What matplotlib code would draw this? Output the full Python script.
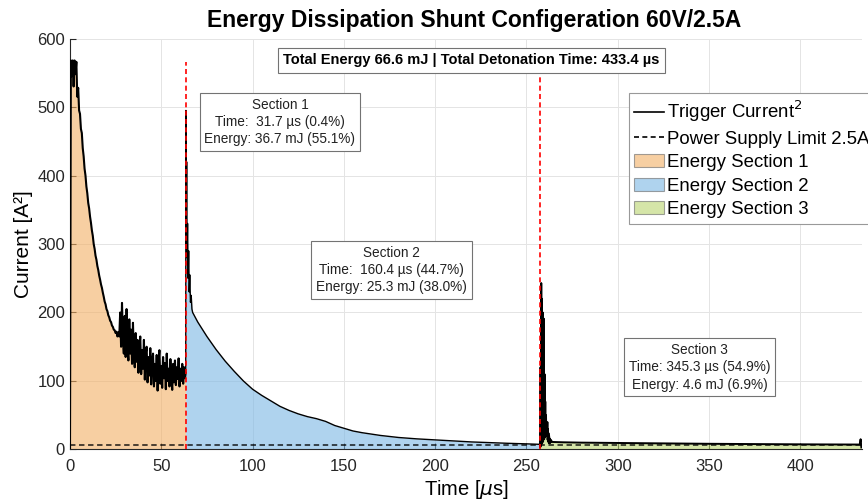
import matplotlib
matplotlib.use("Agg")
import matplotlib.pyplot as plt
from matplotlib.patches import Patch
from matplotlib.lines import Line2D

plt.rcParams['font.family'] = ['Liberation Sans', 'DejaVu Sans']

# section boundaries [us]
t_b1 = 63.4
t_b2 = 257.4
t_end = 433.4
supply_limit = 2.5 ** 2  # A^2

# section 1 (0 .. 63.4 us), every 0.5 us
t_s1 = [i * 0.5 for i in range(127)] + [t_b1]
i_s1 = [0, 568, 545, 568, 530, 568, 548, 566, 515, 528,
        495, 490, 468, 462, 440, 428, 410, 400, 384, 374,
        360, 352, 340, 331, 320, 312, 300, 293, 283, 277,
        268, 262, 254, 248, 241, 236, 229, 223, 216, 212,
        205, 202, 196, 193, 188, 186, 181, 179, 175, 174,
        170, 172, 165, 171,
        165, 200, 150, 214, 160, 140, 195, 135, 205, 150,
        130, 190, 140, 175, 125, 185, 135, 120, 170, 128,
        160, 112, 150, 165, 110, 145, 118, 160, 102, 140,
        150, 98, 135, 108, 148, 95, 130, 140, 92, 125,
        100, 138, 86, 128, 145, 96, 122, 90, 135, 104,
        126, 88, 140, 100, 118, 92, 132, 106, 87, 125,
        98, 130, 94, 120, 103, 133, 92, 118, 100, 125,
        96, 120, 104, 112]

# section 2 (63.4 .. 257.4 us)
t_s2 = [63.4, 63.5, 63.7, 63.9, 64.1, 64.4, 64.7, 65.0, 65.3, 65.6,
        66.0, 66.4, 66.8, 67.2, 70, 75, 80, 85, 90, 95,
        100, 105, 110, 115, 120, 125, 130, 135, 140, 145,
        150, 155, 160, 165, 170, 180, 190, 200, 210, 220,
        230, 240, 250, 257.4]
i_s2 = [112, 495, 300, 420, 280, 330, 250, 290, 230, 255,
        215, 225, 205, 200, 186, 165, 146, 129, 114, 100,
        88, 79, 71, 63, 57, 52, 48, 45, 41, 35,
        31, 27, 24.5, 22.5, 20.5, 17.5, 15.5, 14, 12.5, 11,
        10, 9, 8.2, 7.5]

# section 3 (257.4 .. 433.4 us)
t_s3 = [257.4, 257.5, 257.7, 257.9, 258.1, 258.3, 258.5, 258.7, 258.9, 259.1,
        259.3, 259.5, 259.7, 259.9, 260.1, 260.3, 260.5, 260.7, 260.9, 261.1,
        261.3, 261.45, 261.6, 261.75, 261.9, 262.05, 262.2, 262.4, 262.6, 262.8,
        263.0, 263.4, 264.0, 270, 280, 300, 320, 350, 380, 410,
        432.5, 433.0, 433.4]
i_s3 = [7.5, 3, 120, 5, 243, 8, 220, 10, 200, 12,
        185, 191, 15, 110, 18, 70, 20, 50, 22, 36,
        20, 40, 14, 30, 12, 24, 10, 20, 9, 16,
        10, 14, 11, 10.5, 10, 9.5, 9, 8.3, 7.8, 7.4,
        7.2, 15, 3]

sections = [(t_s1, i_s1), (t_s2, i_s2), (t_s3, i_s3)]
fill_colors = ['#F3AF64', '#7BB7E4', '#B9D46E']
line_widths = [1.5, 1.0, 1.4]
section_labels = ['Energy Section 1', 'Energy Section 2', 'Energy Section 3']

boxes = [
    (115, 478, 'Section 1\nTime:  31.7 \u00b5s (0.4%)\nEnergy: 36.7 mJ (55.1%)'),
    (176, 262, 'Section 2\nTime:  160.4 \u00b5s (44.7%)\nEnergy: 25.3 mJ (38.0%)'),
    (345, 120, 'Section 3\nTime: 345.3 \u00b5s (54.9%)\nEnergy: 4.6 mJ (6.9%)'),
]
total_text = 'Total Energy 66.6 mJ | Total Detonation Time: 433.4 \u00b5s'

fig = plt.figure(figsize=(8.68, 5.03), dpi=100)
ax = fig.add_axes([0.0806, 0.1064, 0.913, 0.817])

for (t, i), c in zip(sections, fill_colors):
    ax.fill_between(t, 0, i, color=c, alpha=0.6, lw=0, zorder=2)

# supply limit
ax.plot([0, t_end], [supply_limit, supply_limit], color='black', alpha=0.75,
        ls=(0, (3, 2)), lw=1.3, zorder=2.5)

for (t, i), lw in zip(sections, line_widths):
    ax.plot(t, i, color='black', lw=lw, zorder=3)

for tb in (t_b1, t_b2):
    ax.plot([tb, tb], [0, 566], color='red', ls=(0, (3, 2)), lw=1.2, zorder=4)

box_style = dict(boxstyle='square,pad=0.35', fc='white', ec='0.45', lw=0.8)
for x, y, txt in boxes:
    ax.text(x, y, txt, ha='center', va='center', fontsize=9.8, linespacing=1.3,
            color='#222222', bbox=box_style, zorder=5)
ax.text(220, 568, total_text, ha='center', va='center', fontsize=10.5,
        fontweight='bold', bbox=dict(boxstyle='square,pad=0.35', fc='white',
                                     ec='0.45', lw=0.8), zorder=5)

ax.set_xlim(0, 434)
ax.set_ylim(0, 600)
ax.set_xticks(range(0, 401, 50))
ax.set_yticks(range(0, 601, 100))
ax.tick_params(direction='in', length=4, labelsize=12, colors='#262626')
ax.tick_params(axis='x', pad=7)
ax.grid(True, color='#e4e4e4', lw=0.7)
ax.set_axisbelow(True)
for s in ('top', 'right'):
    ax.spines[s].set_visible(False)
for s in ('left', 'bottom'):
    ax.spines[s].set_color('#262626')
    ax.spines[s].set_linewidth(0.8)

ax.set_xlabel('Time [$\\mu$s]', fontsize=14.5, labelpad=3)
ax.set_ylabel('Current [A\u00b2]', fontsize=15, labelpad=3)
ax.set_title('Energy Dissipation Shunt Configeration 60V/2.5A', fontsize=16.5,
             fontweight='bold', pad=8, x=0.51)

handles = [Line2D([], [], color='black', lw=1.2),
           Line2D([], [], color='black', lw=1.2, ls=(0, (3, 2)))]
handles += [Patch(fc=c, alpha=0.6, ec='0.4', lw=0.8) for c in fill_colors]
labels = ['Trigger Current$^2$', 'Power Supply Limit 2.5A'] + section_labels
leg = ax.legend(handles, labels, loc='upper left', bbox_to_anchor=(0.705, 0.867),
                fontsize=13.4, frameon=True, fancybox=False, framealpha=1,
                edgecolor='0.6', borderpad=0.3, handlelength=1.6,
                handletextpad=0.15, labelspacing=0.35, borderaxespad=0)
leg.get_frame().set_linewidth(0.8)
leg.set_zorder(6)

fig.savefig('out.png', dpi=100)
